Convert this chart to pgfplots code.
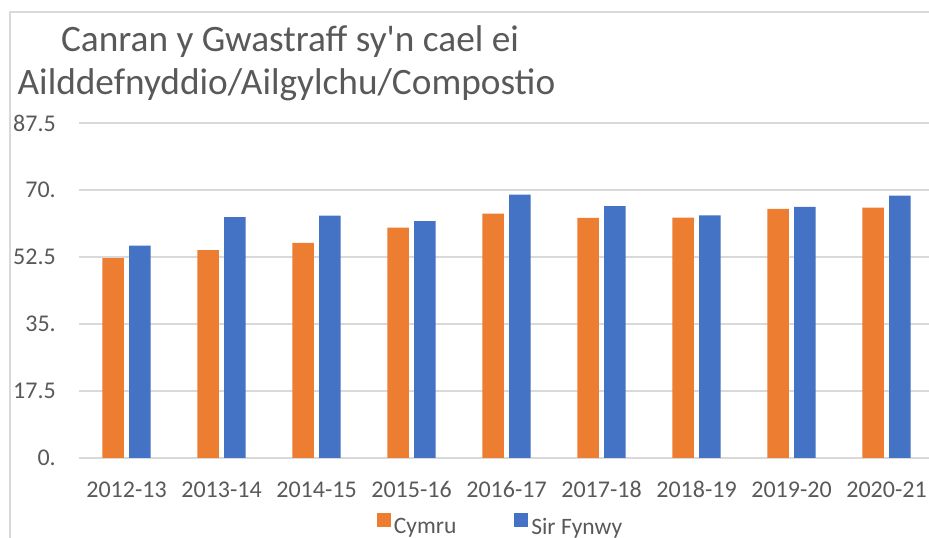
\documentclass[border=0pt]{standalone}
\usepackage{pgfplots}
\pgfplotsset{compat=1.18}
\usepackage{fontspec}
\setmainfont{Carlito}
\definecolor{cOrange}{HTML}{ED7D31}
\definecolor{cBlue}{HTML}{4472C4}
\definecolor{cText}{HTML}{595959}
\definecolor{cGrid}{HTML}{D9D9D9}
\begin{document}
\begin{tikzpicture}
\path[use as bounding box] (0pt,0pt) rectangle (929pt,538pt);
\draw[cGrid, line width=1.5pt] (10pt,-5pt) -- (10pt,526pt) -- (940pt,526pt);
\node[anchor=base, text=cText, font=\fontsize{37.3}{44}\selectfont, inner sep=0pt] at (290pt,486pt) {Canran y Gwastraff sy\textquotesingle n cael ei};
\node[anchor=base, text=cText, font=\fontsize{37.3}{44}\selectfont, inner sep=0pt] at (286.5pt,443pt) {Ailddefnyddio/Ailgylchu/Compostio};
\begin{axis}[
  at={(79pt,80pt)}, anchor=south west,
  scale only axis, width=855pt, height=335pt,
  xmin=-0.5, xmax=8.5, ymin=0, ymax=87.5,
  ybar,
  axis line style={draw=none},
  tick style={draw=none},
  major tick length=0pt,
  ymajorgrids, grid style={cGrid, line width=2.2pt},
  ytick={0,17.5,35,52.5,70,87.5},
  yticklabels={0.,17.5,35.,52.5,70.,87.5},
  xtick={0,1,2,3,4,5,6,7,8},
  xticklabels={2012-13,2013-14,2014-15,2015-16,2016-17,2017-18,2018-19,2019-20,2020-21},
  yticklabel style={anchor=east, inner sep=0pt, xshift=-23pt, text=cText, font=\fontsize{24}{28}\selectfont},
  xticklabel style={anchor=base, inner sep=0pt, yshift=-39pt, text=cText, font=\fontsize{24}{28}\selectfont},
  legend columns=2,
  legend style={draw=none, fill=none, at={(0.4936,-0.203)}, anchor=center,
    font=\fontsize{23.5}{28}\selectfont, text=cText,
    /tikz/every even column/.append style={column sep=55pt},
    nodes={inner sep=3pt}},
  legend cell align=left,
]
\addplot[fill=cOrange, draw=none, bar width=0.225, bar shift=-0.141,
  legend image code/.code={\fill[cOrange] (0pt,0pt) rectangle (14pt,13.5pt);}]
  coordinates {(0,52.2) (1,54.3) (2,56.2) (3,60.2) (4,63.8) (5,62.7) (6,62.8) (7,65.1) (8,65.4)};
\addplot[fill=cBlue, draw=none, bar width=0.225, bar shift=0.141,
  legend image code/.code={\fill[cBlue] (0pt,0pt) rectangle (14pt,13.5pt);}]
  coordinates {(0,55.5) (1,62.9) (2,63.3) (3,61.9) (4,68.8) (5,65.8) (6,63.4) (7,65.6) (8,68.5)};
\legend{Cymru,Sir Fynwy}
\end{axis}
\end{tikzpicture}
\end{document}
